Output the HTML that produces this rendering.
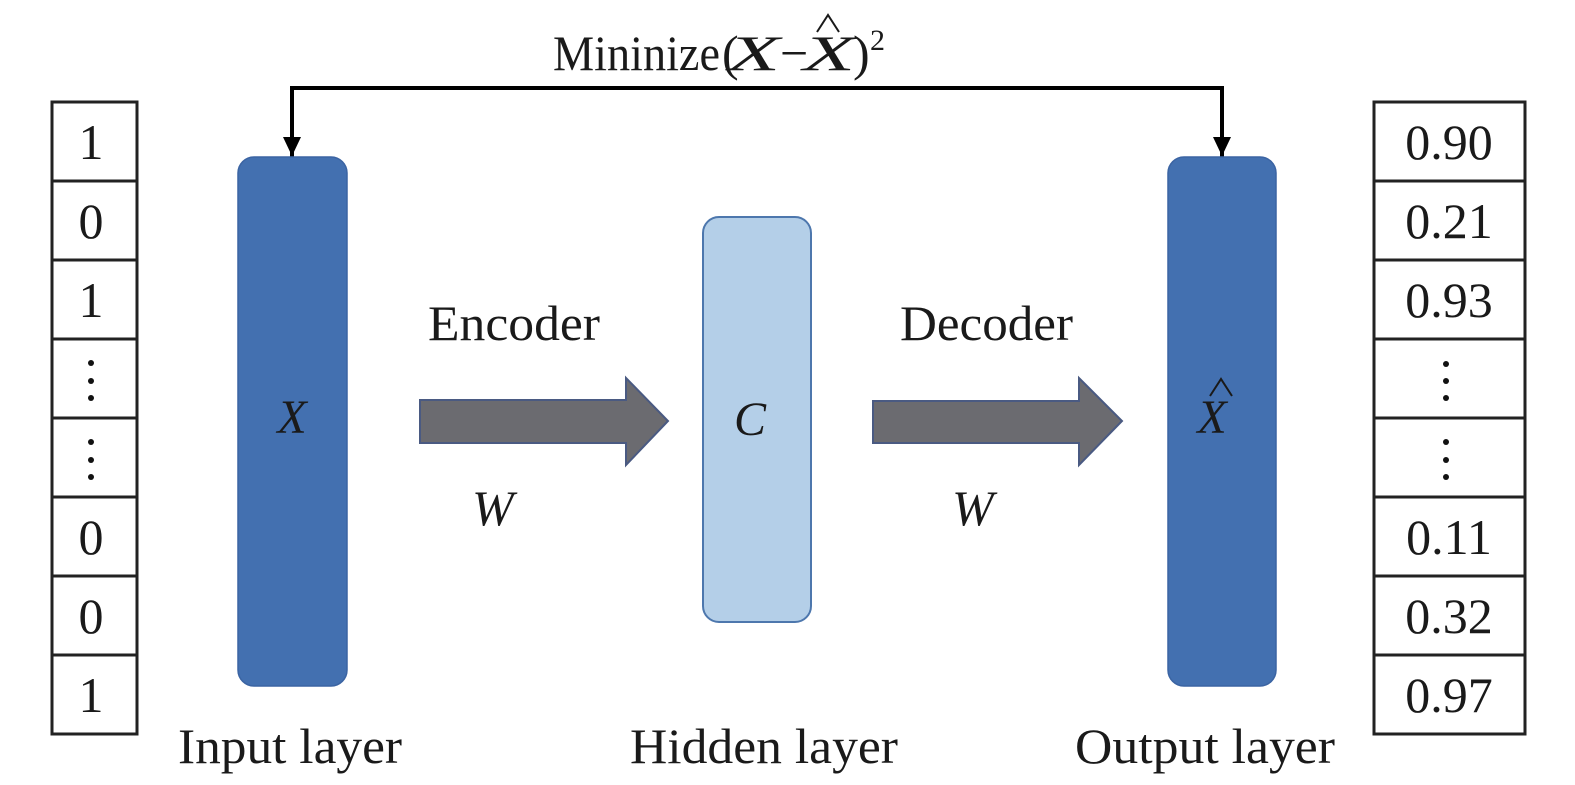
<!DOCTYPE html>
<html><head><meta charset="utf-8"><style>html,body{margin:0;padding:0;background:#fff}svg{display:block}</style></head>
<body>
<svg width="1575" height="785" viewBox="0 0 1575 785" xmlns="http://www.w3.org/2000/svg" font-family="Liberation Serif, serif" fill="#1a1a1a">
<!-- feedback line -->
<polyline points="292,157 292,88 1222,88 1222,157" fill="none" stroke="#000" stroke-width="4"/>
<polygon points="283,137 301,137 292,156" fill="#000"/>
<polygon points="1213,137 1231,137 1222,156" fill="#000"/>
<!-- title -->
<text x="553" y="70" font-size="50" textLength="167" lengthAdjust="spacingAndGlyphs">Mininize</text>
<text x="722" y="70" font-size="50">(</text>
<text x="728" y="70" font-size="50" font-style="italic" textLength="52" lengthAdjust="spacingAndGlyphs">X</text>
<text x="780" y="70" font-size="50">−</text>
<text x="803" y="70" font-size="50" font-style="italic" textLength="52" lengthAdjust="spacingAndGlyphs">X</text>
<polyline points="817,32 828,15 839,32" fill="none" stroke="#1a1a1a" stroke-width="2"/>
<text x="853" y="70" font-size="50">)</text>
<text x="870" y="50" font-size="30">2</text>
<!-- left table -->
<g fill="#fff" stroke="#222" stroke-width="3">
<rect x="52" y="102" width="85" height="632"/>
<rect x="1374" y="102" width="151" height="632"/>
</g>
<g stroke="#222" stroke-width="3">
<line x1="52" y1="181" x2="137" y2="181"/><line x1="52" y1="260" x2="137" y2="260"/><line x1="52" y1="339" x2="137" y2="339"/><line x1="52" y1="418" x2="137" y2="418"/><line x1="52" y1="497" x2="137" y2="497"/><line x1="52" y1="576" x2="137" y2="576"/><line x1="52" y1="655" x2="137" y2="655"/>
<line x1="1374" y1="181" x2="1525" y2="181"/><line x1="1374" y1="260" x2="1525" y2="260"/><line x1="1374" y1="339" x2="1525" y2="339"/><line x1="1374" y1="418" x2="1525" y2="418"/><line x1="1374" y1="497" x2="1525" y2="497"/><line x1="1374" y1="576" x2="1525" y2="576"/><line x1="1374" y1="655" x2="1525" y2="655"/>
</g>
<g font-size="50" text-anchor="middle">
<text x="91" y="159">1</text><text x="91" y="238">0</text><text x="91" y="317">1</text>
<text x="91" y="554">0</text><text x="91" y="633">0</text><text x="91" y="712">1</text>
<text x="1449" y="159">0.90</text><text x="1449" y="238">0.21</text><text x="1449" y="317">0.93</text>
<text x="1449" y="554">0.11</text><text x="1449" y="633">0.32</text><text x="1449" y="712">0.97</text>
</g>
<g fill="#111">
<circle cx="91" cy="363" r="3"/><circle cx="91" cy="381" r="3"/><circle cx="91" cy="398" r="3"/>
<circle cx="91" cy="442" r="3"/><circle cx="91" cy="460" r="3"/><circle cx="91" cy="477" r="3"/>
<circle cx="1446" cy="364" r="3"/><circle cx="1446" cy="381" r="3"/><circle cx="1446" cy="398" r="3"/>
<circle cx="1446" cy="442" r="3"/><circle cx="1446" cy="460" r="3"/><circle cx="1446" cy="477" r="3"/>
</g>
<!-- bars -->
<rect x="238" y="157" width="109" height="529" rx="16" fill="#4370b0" stroke="#3b64a3" stroke-width="1.5"/>
<rect x="1168" y="157" width="108" height="529" rx="16" fill="#4370b0" stroke="#3b64a3" stroke-width="1.5"/>
<rect x="703" y="217" width="108" height="405" rx="16" fill="#b4cfe8" stroke="#4d77ad" stroke-width="2"/>
<text x="292" y="433" font-size="48" font-style="italic" text-anchor="middle">X</text>
<text x="750" y="435" font-size="48" font-style="italic" text-anchor="middle">C</text>
<text x="1212" y="433" font-size="48" font-style="italic" text-anchor="middle">X</text>
<polyline points="1210,396 1221,379 1232,396" fill="none" stroke="#1a1a1a" stroke-width="2"/>
<!-- arrows -->
<polygon points="420,400 626,400 626,378 668,421 626,465 626,443 420,443" fill="#6b6b70" stroke="#4a5a82" stroke-width="2"/>
<polygon points="873,401 1079,401 1079,378 1122,421 1079,465 1079,443 873,443" fill="#6b6b70" stroke="#4a5a82" stroke-width="2"/>
<!-- labels -->
<text x="428" y="340" font-size="50" textLength="172" lengthAdjust="spacingAndGlyphs">Encoder</text>
<text x="900" y="340" font-size="50" textLength="173" lengthAdjust="spacingAndGlyphs">Decoder</text>
<text x="472" y="525" font-size="50" font-style="italic">W</text>
<text x="952" y="525" font-size="50" font-style="italic">W</text>
<text x="178" y="763" font-size="50" textLength="224" lengthAdjust="spacingAndGlyphs">Input layer</text>
<text x="630" y="763" font-size="50" textLength="268" lengthAdjust="spacingAndGlyphs">Hidden layer</text>
<text x="1075" y="763" font-size="50" textLength="260" lengthAdjust="spacingAndGlyphs">Output layer</text>
</svg>
</body></html>
